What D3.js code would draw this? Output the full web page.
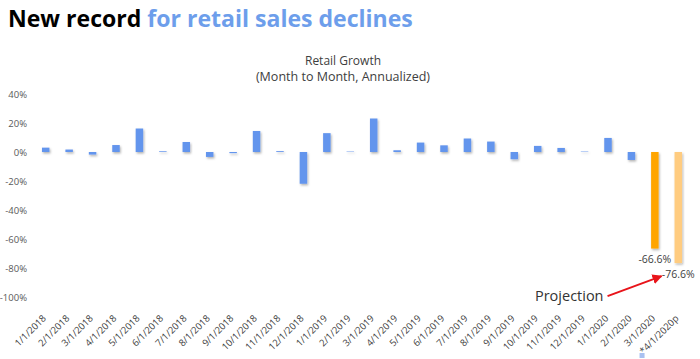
<!DOCTYPE html>
<html>
<head>
<meta charset="utf-8">
<script src="https://cdn.jsdelivr.net/npm/d3@7"></script>
<style>
  html, body { margin: 0; padding: 0; background: #fff; }
  svg { display: block; font-family: "Open Sans", "DejaVu Sans", sans-serif; }
</style>
</head>
<body>
<svg id="chart" width="700" height="359"></svg>
<script>
/* Retail growth, month to month annualized — bars with the March 2020 record drop */
const dates = [
  "1/1/2018", "2/1/2018", "3/1/2018", "4/1/2018", "5/1/2018", "6/1/2018", "7/1/2018",
  "8/1/2018", "9/1/2018", "10/1/2018", "11/1/2018", "12/1/2018", "1/1/2019", "2/1/2019",
  "3/1/2019", "4/1/2019", "5/1/2019", "6/1/2019", "7/1/2019", "8/1/2019", "9/1/2019",
  "10/1/2019", "11/1/2019", "12/1/2019", "1/1/2020", "2/1/2020", "3/1/2020", "*4/1/2020p"
];
const growth = [
  3.0, 1.7, -1.8, 4.8, 16.2, 0.5, 6.9, -3.4, -0.8, 14.5, 0.6, -21.9, 13.0, 0.3,
  23.1, 1.2, 6.5, 4.6, 9.3, 7.2, -5.0, 4.2, 2.8, 0.3, 9.7, -5.5, -66.6, -76.6
];
const yTicks = [40, 20, 0, -20, -40, -60, -80, -100];
const recordMonth = "3/1/2020";
const projectedMonth = "*4/1/2020p";

const BLUE = "#6495ed", ORANGE = "#ffa500", LIGHT = "#ffcc80", TXT = "#404040";

const svg = d3.select("#chart");
const data = dates.map((d, i) => ({ date: d, v: growth[i] }));

// title
const title = svg.append("text").attr("x", 8).attr("y", 27)
  .attr("font-size", 21).attr("font-weight", 700);
title.append("tspan").attr("fill", "#000").text("New record ");
title.append("tspan").attr("fill", "#6d9eeb").text("for retail sales declines");
const tw = title.node().getComputedTextLength();
title.attr("font-size", 21 * 405 / tw);

// subtitle
svg.append("text").attr("x", 343).attr("y", 65).attr("text-anchor", "middle")
  .attr("font-size", 12).attr("fill", TXT).text("Retail Growth");
svg.append("text").attr("x", 343).attr("y", 81).attr("text-anchor", "middle")
  .attr("font-size", 12.5).attr("fill", TXT).text("(Month to Month, Annualized)");

// scales
const x = d3.scaleBand().domain(dates).range([34, 690]).paddingInner(0.68).paddingOuter(0.34);
const y = d3.scaleLinear().domain([-100, 40]).range([297, 94]);

// drop shadow like the spreadsheet bars
const defs = svg.append("defs");
defs.append("filter").attr("id", "shadow").attr("x", "-50%").attr("y", "-50%")
  .attr("width", "200%").attr("height", "200%")
  .append("feDropShadow").attr("dx", 1).attr("dy", 1.5).attr("stdDeviation", 0.9)
  .attr("flood-color", "#000").attr("flood-opacity", 0.3);

// y axis (labels only)
const yAxis = svg.append("g").attr("transform", "translate(27,0)")
  .call(d3.axisLeft(y).tickValues(yTicks).tickSize(0).tickPadding(0).tickFormat((d) => d + "%"));
yAxis.select(".domain").remove();
yAxis.selectAll("text").attr("font-size", 9.5).attr("fill", "#595959")
  .attr("font-family", "Open Sans, DejaVu Sans, sans-serif");

// bars
const color = (d) => d.date === recordMonth ? ORANGE : d.date === projectedMonth ? LIGHT : BLUE;
svg.append("g").attr("filter", "url(#shadow)")
  .selectAll("rect").data(data).enter().append("rect")
  .attr("x", (d) => x(d.date))
  .attr("width", x.bandwidth())
  .attr("y", (d) => y(Math.max(0, d.v)))
  .attr("height", (d) => Math.abs(y(d.v) - y(0)))
  .attr("fill", color);

// value labels for the two big drops
svg.append("g").selectAll("text")
  .data(data.filter((d) => d.date === recordMonth || d.date === projectedMonth))
  .enter().append("text")
  .attr("x", (d) => x(d.date) + x.bandwidth() / 2)
  .attr("y", (d) => y(d.v) + 14.5)
  .attr("text-anchor", "middle").attr("font-size", 10.5).attr("fill", TXT)
  .text((d) => d.v.toFixed(1) + "%");

// x axis labels, rotated
const xAxis = svg.append("g").attr("transform", "translate(0,297)")
  .call(d3.axisBottom(x).tickSize(0).tickPadding(0));
xAxis.select(".domain").remove();
xAxis.selectAll(".tick text")
  .attr("font-size", 9.5).attr("fill", TXT)
  .attr("font-family", "Open Sans, DejaVu Sans, sans-serif")
  .attr("text-anchor", "end").attr("dy", 0).attr("y", 0)
  .attr("transform", "translate(1,22) rotate(-45)");

// stray legend marker under the projection label
const px = x(projectedMonth);
svg.append("rect").attr("x", px - 35).attr("y", 353).attr("width", 5).attr("height", 5)
  .attr("fill", "#a9c1f1");

// projection annotation
const lastY = y(data[data.length - 1].v);
defs.append("marker").attr("id", "arrow").attr("viewBox", "0 0 10 10")
  .attr("refX", 9).attr("refY", 5).attr("markerWidth", 5).attr("markerHeight", 5)
  .attr("orient", "auto")
  .append("path").attr("d", "M0,0 L10,5 L0,10 z").attr("fill", "#e8141a");
svg.append("line")
  .attr("x1", px - 67).attr("y1", lastY + 33)
  .attr("x2", px - 13).attr("y2", lastY + 13)
  .attr("stroke", "#e8141a").attr("stroke-width", 2).attr("marker-end", "url(#arrow)");
svg.append("text").attr("x", px - 71).attr("y", lastY + 38).attr("text-anchor", "end")
  .attr("font-size", 14.5).attr("fill", "#333").text("Projection");
</script>
</body>
</html>
